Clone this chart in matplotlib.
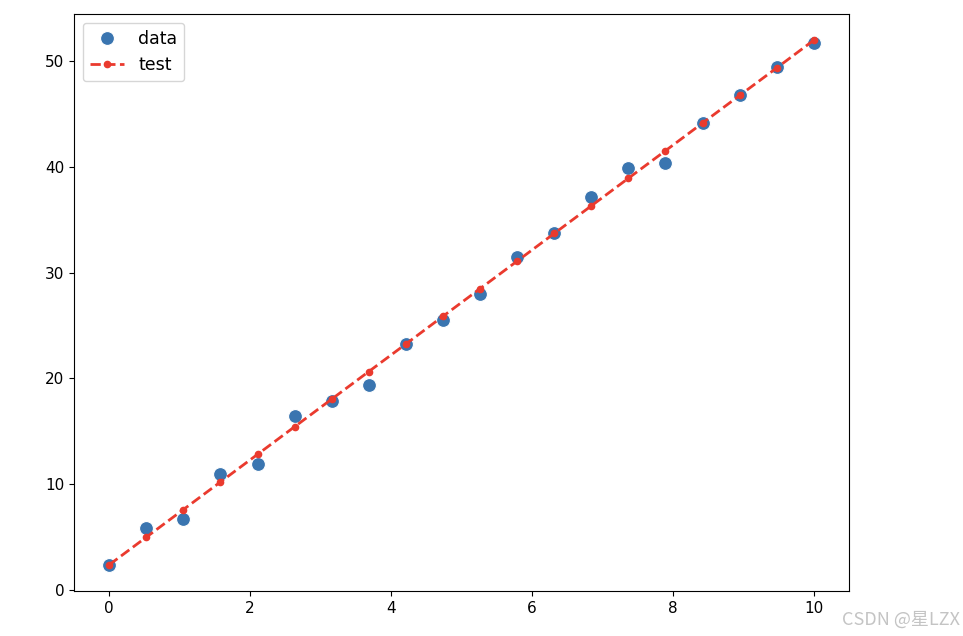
import numpy as np
import matplotlib
matplotlib.use("Agg")
import matplotlib.pyplot as plt

x = [0.0, 0.526, 1.053, 1.579, 2.105, 2.632, 3.158, 3.684, 4.211, 4.737,
     5.263, 5.789, 6.316, 6.842, 7.368, 7.895, 8.421, 8.947, 9.474, 10.0]
data_y = [2.37, 5.85, 6.7, 10.96, 11.9, 16.4, 17.85, 19.4, 23.2, 25.5,
          28.0, 31.45, 33.8, 37.2, 39.95, 40.4, 44.2, 46.8, 49.5, 51.75]
test_y = [2.35, 4.96, 7.58, 10.19, 12.80, 15.42, 18.03, 20.64, 23.25, 25.87,
          28.48, 31.09, 33.71, 36.32, 38.93, 41.54, 44.16, 46.77, 49.38, 52.00]

fig = plt.figure(figsize=(9.63, 6.36), dpi=100)
ax = fig.add_axes([74/963, 1 - 591/636, (849 - 74)/963, (591 - 14)/636])

ax.plot(x, data_y, 'o', color='#3a75b0', markersize=10, markeredgecolor='white',
        markeredgewidth=0.8, label='data')
ax.plot(x, test_y, '--', color='#ea3a2e', linewidth=2.0, marker='o', markersize=4.5,
        label='test')

ax.tick_params(labelsize=11)
ax.legend(loc='upper left', fontsize=12.5)

fig.text(0.997, 0.012, 'CSDN @星LZX', ha='right', va='bottom', color='#c4c4c4',
         fontsize=13, family=['Noto Sans CJK SC', 'DejaVu Sans'])

fig.savefig('out.png', dpi=100)
